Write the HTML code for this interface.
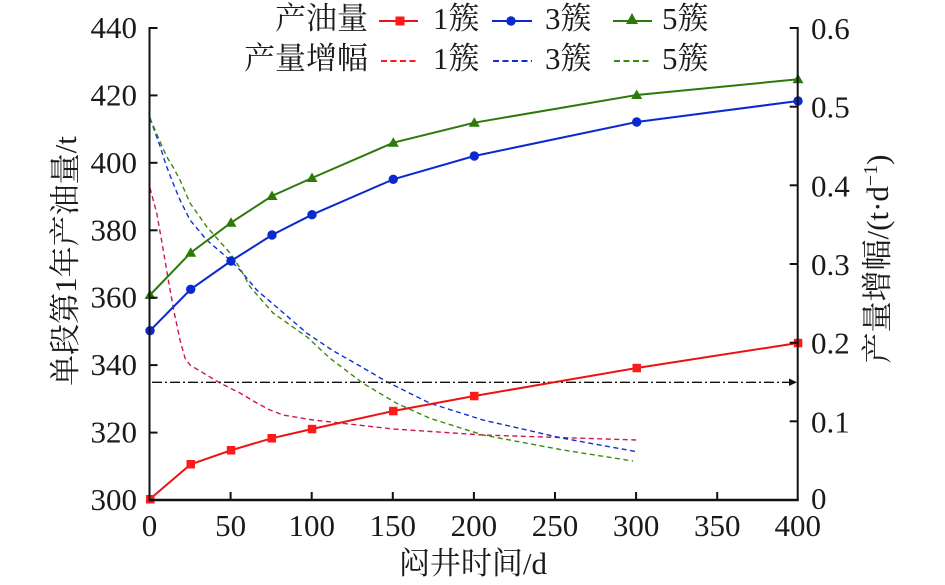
<!DOCTYPE html>
<html>
<head>
<meta charset="utf-8">
<style>
  html,body{margin:0;padding:0;background:#fff;}
  svg{display:block;}
  text{font-family:"Liberation Serif","Noto Serif CJK SC",serif;fill:#1a1a1a;}
</style>
</head>
<body>
<svg width="945" height="585" viewBox="0 0 945 585" xmlns="http://www.w3.org/2000/svg">
  <!-- Dashed increment curves -->
  <polyline fill="none" stroke="#cc1850" stroke-width="1.4" stroke-dasharray="5,3.5" stroke-linejoin="round"
    points="150,188 156.7,213 162.7,246.7 168.3,280 174.3,313 180,340 185,358 190,365 200,371 220,383 240,393 255,402 270,410 283,415 313,420 340,423 393,429 483,435 636,440"/>
  <polyline fill="none" stroke="#1030d0" stroke-width="1.4" stroke-dasharray="5,3.5" stroke-linejoin="round"
    points="150,118 160,146 166,165 173,183 180,200 190,220 206.7,240 230,260 240,270 256.7,290 280,310 306.7,333 333,350.7 360,366 386.7,381.7 430,403.3 483,420 563,438.3 636.7,451.7"/>
  <polyline fill="none" stroke="#3a8a10" stroke-width="1.4" stroke-dasharray="5,3.5" stroke-linejoin="round"
    points="150,118 158,137 166.7,156.7 173,167 180,180 190,203 206.7,226.7 230,253 240,268 250,286.7 273,313 306.7,336.7 330,358.3 363,383.3 396.7,403.3 430,418.3 483,435 563,450 633,461"/>

  <!-- dash-dot reference line at 0.15 -->
  <line x1="152" y1="382.3" x2="790" y2="382.3" stroke="#111" stroke-width="1.3" stroke-dasharray="10,3,2,3"/>
  <polygon points="789,378.5 797,382.3 789,386" fill="#111"/>

  <!-- Solid production series -->
  <polyline fill="none" stroke="#ee1111" stroke-width="2"
    points="150,499 190.7,464.3 231,450.3 271.7,438.3 312,429 393.3,411 474.3,396 636.7,368 798,343"/>
  <polyline fill="none" stroke="#0a2ad0" stroke-width="2"
    points="150,330.7 190.7,289.3 231,261 272,235 312,214.7 393.3,179.3 474.3,156 636.7,122 798,101"/>
  <polyline fill="none" stroke="#2d7a0a" stroke-width="2"
    points="150,295 190.7,252.7 231,222.7 272,196 312,178 393.3,142.7 474.3,122.7 636.7,95 798,79.3"/>

  <!-- red squares -->
  <g fill="#ff1a1a">
    <rect x="146" y="495" width="8.5" height="8.5"/>
    <rect x="186.5" y="460" width="8.5" height="8.5"/>
    <rect x="226.8" y="446" width="8.5" height="8.5"/>
    <rect x="267.5" y="434" width="8.5" height="8.5"/>
    <rect x="307.8" y="424.8" width="8.5" height="8.5"/>
    <rect x="389" y="406.8" width="8.5" height="8.5"/>
    <rect x="470" y="391.8" width="8.5" height="8.5"/>
    <rect x="632.5" y="363.8" width="8.5" height="8.5"/>
    <rect x="793.8" y="338.8" width="8.5" height="8.5"/>
  </g>
  <!-- blue circles -->
  <g fill="#0a2ad0">
    <circle cx="150" cy="330.7" r="4.7"/>
    <circle cx="190.7" cy="289.3" r="4.7"/>
    <circle cx="231" cy="261" r="4.7"/>
    <circle cx="272" cy="235" r="4.7"/>
    <circle cx="312" cy="214.7" r="4.7"/>
    <circle cx="393.3" cy="179.3" r="4.7"/>
    <circle cx="474.3" cy="156" r="4.7"/>
    <circle cx="636.7" cy="122" r="4.7"/>
    <circle cx="798" cy="101" r="4.7"/>
  </g>
  <!-- green triangles -->
  <g fill="#2d7a0a">
    <polygon points="150,289.5 155.5,299 144.5,299"/>
    <polygon points="190.7,247.2 196.2,256.7 185.2,256.7"/>
    <polygon points="231,217.2 236.5,226.7 225.5,226.7"/>
    <polygon points="272,190.5 277.5,200 266.5,200"/>
    <polygon points="312,172.5 317.5,182 306.5,182"/>
    <polygon points="393.3,137.2 398.8,146.7 387.8,146.7"/>
    <polygon points="474.3,117.2 479.8,126.7 468.8,126.7"/>
    <polygon points="636.7,89.5 642.2,99 631.2,99"/>
    <polygon points="798,73.8 803.5,83.3 792.5,83.3"/>
  </g>

  <!-- Axes -->
  <g stroke="#111" stroke-width="2" fill="none">
    <line x1="149.5" y1="27" x2="149.5" y2="501"/>
    <line x1="797.7" y1="27" x2="797.7" y2="501"/>
    <line x1="148.5" y1="500" x2="798.7" y2="500" stroke-width="2.5"/>
    <!-- left ticks -->
    <line x1="149.5" y1="28" x2="157.5" y2="28"/>
    <line x1="149.5" y1="95.4" x2="157.5" y2="95.4"/>
    <line x1="149.5" y1="162.8" x2="157.5" y2="162.8"/>
    <line x1="149.5" y1="230.3" x2="157.5" y2="230.3"/>
    <line x1="149.5" y1="297.7" x2="157.5" y2="297.7"/>
    <line x1="149.5" y1="365.1" x2="157.5" y2="365.1"/>
    <line x1="149.5" y1="432.6" x2="157.5" y2="432.6"/>
    <!-- right ticks -->
    <line x1="789.7" y1="28" x2="797.7" y2="28"/>
    <line x1="789.7" y1="106.7" x2="797.7" y2="106.7"/>
    <line x1="789.7" y1="185.3" x2="797.7" y2="185.3"/>
    <line x1="789.7" y1="264" x2="797.7" y2="264"/>
    <line x1="789.7" y1="342.7" x2="797.7" y2="342.7"/>
    <line x1="789.7" y1="421.3" x2="797.7" y2="421.3"/>
    <!-- bottom ticks -->
    <line x1="230.6" y1="500" x2="230.6" y2="492"/>
    <line x1="311.7" y1="500" x2="311.7" y2="492"/>
    <line x1="392.8" y1="500" x2="392.8" y2="492"/>
    <line x1="473.9" y1="500" x2="473.9" y2="492"/>
    <line x1="555" y1="500" x2="555" y2="492"/>
    <line x1="636.1" y1="500" x2="636.1" y2="492"/>
    <line x1="717.2" y1="500" x2="717.2" y2="492"/>
  </g>

  <!-- Left tick labels -->
  <g font-size="31" text-anchor="end">
    <text x="137" y="38">440</text>
    <text x="137" y="105.4">420</text>
    <text x="137" y="172.8">400</text>
    <text x="137" y="240.3">380</text>
    <text x="137" y="307.7">360</text>
    <text x="137" y="375.1">340</text>
    <text x="137" y="442.6">320</text>
    <text x="137" y="510">300</text>
  </g>
  <!-- Right tick labels -->
  <g font-size="31" text-anchor="start">
    <text x="811" y="39">0.6</text>
    <text x="811" y="117.7">0.5</text>
    <text x="811" y="196.3">0.4</text>
    <text x="811" y="275">0.3</text>
    <text x="811" y="353.7">0.2</text>
    <text x="811" y="432.3">0.1</text>
    <text x="811" y="509">0</text>
  </g>
  <!-- Bottom tick labels -->
  <g font-size="31" text-anchor="middle">
    <text x="149.5" y="536">0</text>
    <text x="230.6" y="536">50</text>
    <text x="311.7" y="536">100</text>
    <text x="392.8" y="536">150</text>
    <text x="473.9" y="536">200</text>
    <text x="555" y="536">250</text>
    <text x="636.1" y="536">300</text>
    <text x="717.2" y="536">350</text>
    <text x="797.7" y="536">400</text>
  </g>

  <!-- Axis titles -->
  <text x="473" y="574" font-size="31" text-anchor="middle">闷井时间/d</text>
  <text transform="translate(76,261) rotate(-90)" font-size="31" text-anchor="middle">单段第1年产油量/t</text>
  <text transform="translate(888,259) rotate(-90)" font-size="31" text-anchor="middle">产量增幅/(t·d<tspan font-size="20" dy="-11">−1</tspan><tspan dy="11">)</tspan></text>

  <!-- Legend -->
  <g font-size="31">
    <text x="368" y="29" text-anchor="end">产油量</text>
    <text x="368" y="69" text-anchor="end">产量增幅</text>
    <text x="433" y="29">1簇</text>
    <text x="545" y="29">3簇</text>
    <text x="662" y="29">5簇</text>
    <text x="433" y="69">1簇</text>
    <text x="545" y="69">3簇</text>
    <text x="662" y="69">5簇</text>
  </g>
  <line x1="379" y1="21" x2="418" y2="21" stroke="#ee1111" stroke-width="2"/>
  <rect x="395.5" y="16.5" width="9" height="9" fill="#ff1a1a"/>
  <line x1="492" y1="21" x2="532" y2="21" stroke="#0a2ad0" stroke-width="2"/>
  <circle cx="511" cy="21" r="4.7" fill="#0a2ad0"/>
  <line x1="613" y1="21" x2="652" y2="21" stroke="#2d7a0a" stroke-width="2"/>
  <polygon points="632,13 638,24 626,24" fill="#2d7a0a"/>
  <line x1="381" y1="61" x2="418" y2="61" stroke="#ff1a1a" stroke-width="2" stroke-dasharray="6,3.5"/>
  <line x1="493" y1="61" x2="532" y2="61" stroke="#1030d0" stroke-width="2" stroke-dasharray="6,3.5"/>
  <line x1="614" y1="61" x2="652" y2="61" stroke="#3a8a10" stroke-width="2" stroke-dasharray="6,3.5"/>
</svg>
</body>
</html>
